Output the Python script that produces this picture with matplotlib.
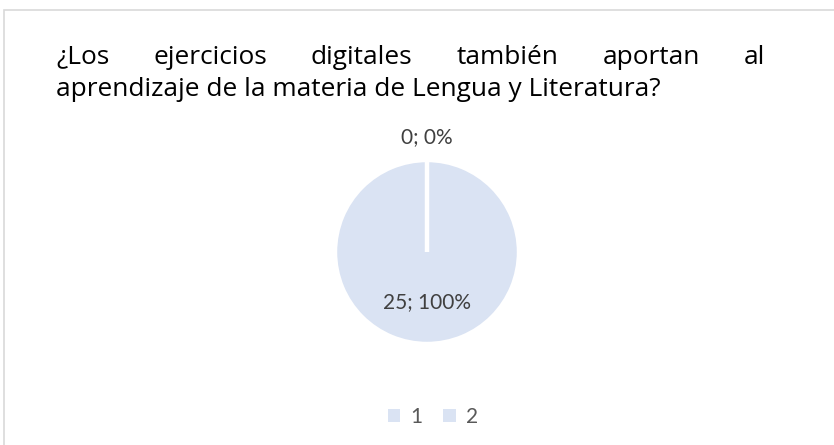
import matplotlib.pyplot as plt
from matplotlib.patches import Rectangle

title_line1 = ['¿Los', 'ejercicios', 'digitales', 'también', 'aportan', 'al']
title_line2 = 'aprendizaje de la materia de Lengua y Literatura?'
categories = ['1', '2']
values = [25, 0]
colors = ['#DAE3F3', '#DAE3F3']

FONT = 'Lato'
TITLE_FONT = 'Open Sans'


def main():
    fig = plt.figure(figsize=(8.34, 4.45), dpi=100)
    W, H = 834, 445

    # chart border
    fig.patches.append(Rectangle((4 / W, -0.1), 1.0, (H - 10) / H + 0.1,
                                 transform=fig.transFigure, fill=False,
                                 edgecolor='#D9D9D9', linewidth=1.2))

    renderer = fig.canvas.get_renderer()
    x0, x1 = 56, 765

    # second line sets the font size (fit to 604 px)
    t2 = fig.text(x0 / W, 1 - 90 / H, title_line2, fontsize=16, family=TITLE_FONT,
                  color='black', va='center')
    w2 = t2.get_window_extent(renderer).width
    fs = 16 * 604 / w2
    t2.set_fontsize(fs)

    # justified first title line
    words = []
    for w in title_line1:
        t = fig.text(0, 1 - 57 / H, w, fontsize=fs, family=TITLE_FONT, color='black', va='center')
        words.append(t)
    widths = [t.get_window_extent(renderer).width for t in words]
    gap = (x1 - x0 - sum(widths)) / (len(words) - 1)
    x = x0
    for t, wd in zip(words, widths):
        t.set_x(x / W)
        x += wd + gap

    # pie
    cx, cy, r = 427, 252, 92
    ax = fig.add_axes([(cx - r) / W, 1 - (cy + r) / H, 2 * r / W, 2 * r / H])
    wedges, _ = ax.pie(values, colors=colors, startangle=90, counterclock=False,
                       wedgeprops=dict(edgecolor='white', linewidth=3.2))
    ax.set_xlim(-1, 1)
    ax.set_ylim(-1, 1)
    ax.set_aspect('equal')
    total = sum(values)
    ax.text(0, -0.54, f'{values[0]}; {values[0] / total:.0%}', ha='center', va='center',
            fontsize=15, family=FONT, color='#404040')
    fig.text(cx / W, 1 - 137 / H, f'{values[1]}; {values[1] / total:.0%}', ha='center',
             va='center', fontsize=15, family=FONT, color='#404040')

    leg = fig.legend(wedges, categories, loc='center', bbox_to_anchor=(433 / W, 1 - 417 / H),
                     ncol=2, frameon=False, handlelength=0.6, handleheight=0.6,
                     handletextpad=0.5, columnspacing=1.0,
                     prop={'family': FONT, 'size': 15})
    for t in leg.get_texts():
        t.set_color('#595959')
    for h in leg.legend_handles:
        h.set_edgecolor('none')

    fig.savefig('out.png', dpi=100)


if __name__ == '__main__':
    main()
